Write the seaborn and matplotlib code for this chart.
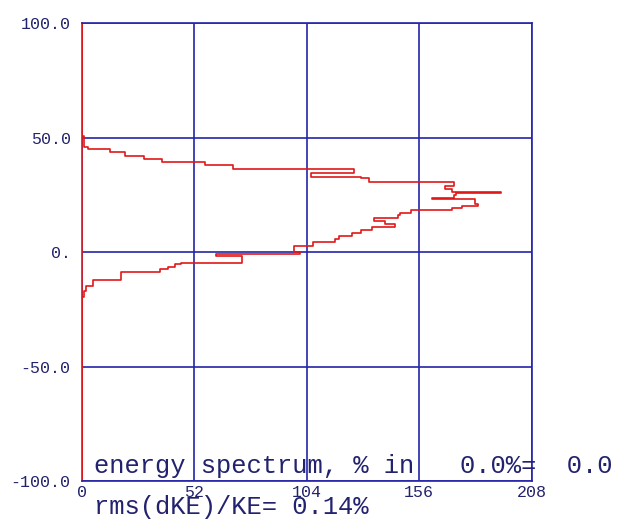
import numpy as np
import matplotlib
matplotlib.use("Agg")
import matplotlib.pyplot as plt
import seaborn as sns

# energy deviation bin edges (%) and particle counts per bin
edges = [-100.0, -19.6, -16.8, -14.8, -12.2, -8.7, -7.4, -6.4, -5.2, -4.6, -1.5, -1.0,
         0.0, 2.7, 4.4, 5.7, 7.0, 8.3, 9.6, 11.0, 12.1, 13.6, 14.9, 16.2, 16.9,
         18.2, 19.3, 20.1, 21.2, 23.2, 23.6, 25.0, 25.8, 26.4, 27.6, 28.9, 30.8,
         32.2, 33.0, 34.4, 36.2, 38.1, 39.4, 40.7, 42.1, 43.8, 45.1, 46.1, 50.7, 100.0]
counts = [0, 1, 2, 5, 18, 36, 40, 43, 46, 74, 62, 101,
          98, 107, 117, 119, 125, 129, 134, 145, 140, 135, 146, 147,
          152, 171, 176, 183, 182, 162, 172, 173, 194, 171, 168, 172,
          133, 129, 106, 126, 70, 57, 37, 29, 20, 13, 3, 1, 0]

x_ticks = [0, 52, 104, 156, 208]
y_ticks = [-100, -50, 0, 50, 100]
y_labels = ["-100.0", "-50.0", "0.", "50.0", "100.0"]

centers = [(a + b) / 2 for a, b in zip(edges[:-1], edges[1:])]

sns.set_style("white")
plt.rcParams['font.family'] = ['Liberation Mono', 'DejaVu Sans Mono']

blue = '#2424a8'
red = '#e01818'
txt = '#22226e'

fig = plt.figure(figsize=(6.24, 5.19), dpi=100)
ax = fig.add_axes([81.7 / 624, 1 - 481 / 519, 450 / 624, 457.7 / 519])

sns.histplot(y=centers, weights=counts, bins=edges, element="step", fill=False,
             color=red, linewidth=1.2, ax=ax)

ax.set_xlim(0, 208)
ax.set_ylim(-100, 100)
ax.set_xticks(x_ticks)
ax.set_xticklabels([str(t) for t in x_ticks])
ax.set_yticks(y_ticks)
ax.set_yticklabels(y_labels)
ax.tick_params(length=0, labelsize=12, labelcolor=txt)
ax.tick_params(axis='y', pad=8)
ax.tick_params(axis='x', pad=3)
ax.set_xlabel("")
ax.set_ylabel("")
ax.grid(True, color=blue, linewidth=1.2)
ax.set_axisbelow(True)
for s in ['top', 'right', 'bottom']:
    ax.spines[s].set_color(blue)
    ax.spines[s].set_linewidth(1.2)
ax.spines['left'].set_color(red)
ax.spines['left'].set_linewidth(1.2)

# labels written over the plot, as in the original output
fig.text(94 / 624, (519 - 473) / 519, "energy spectrum, % in   0.0%=  0.0",
         fontsize=18.4, color=txt, va='baseline', ha='left')
fig.text(94 / 624, (519 - 514) / 519, "rms(dKE)/KE= 0.14%",
         fontsize=18.4, color=txt, va='baseline', ha='left')

fig.savefig("out.png", dpi=100)
